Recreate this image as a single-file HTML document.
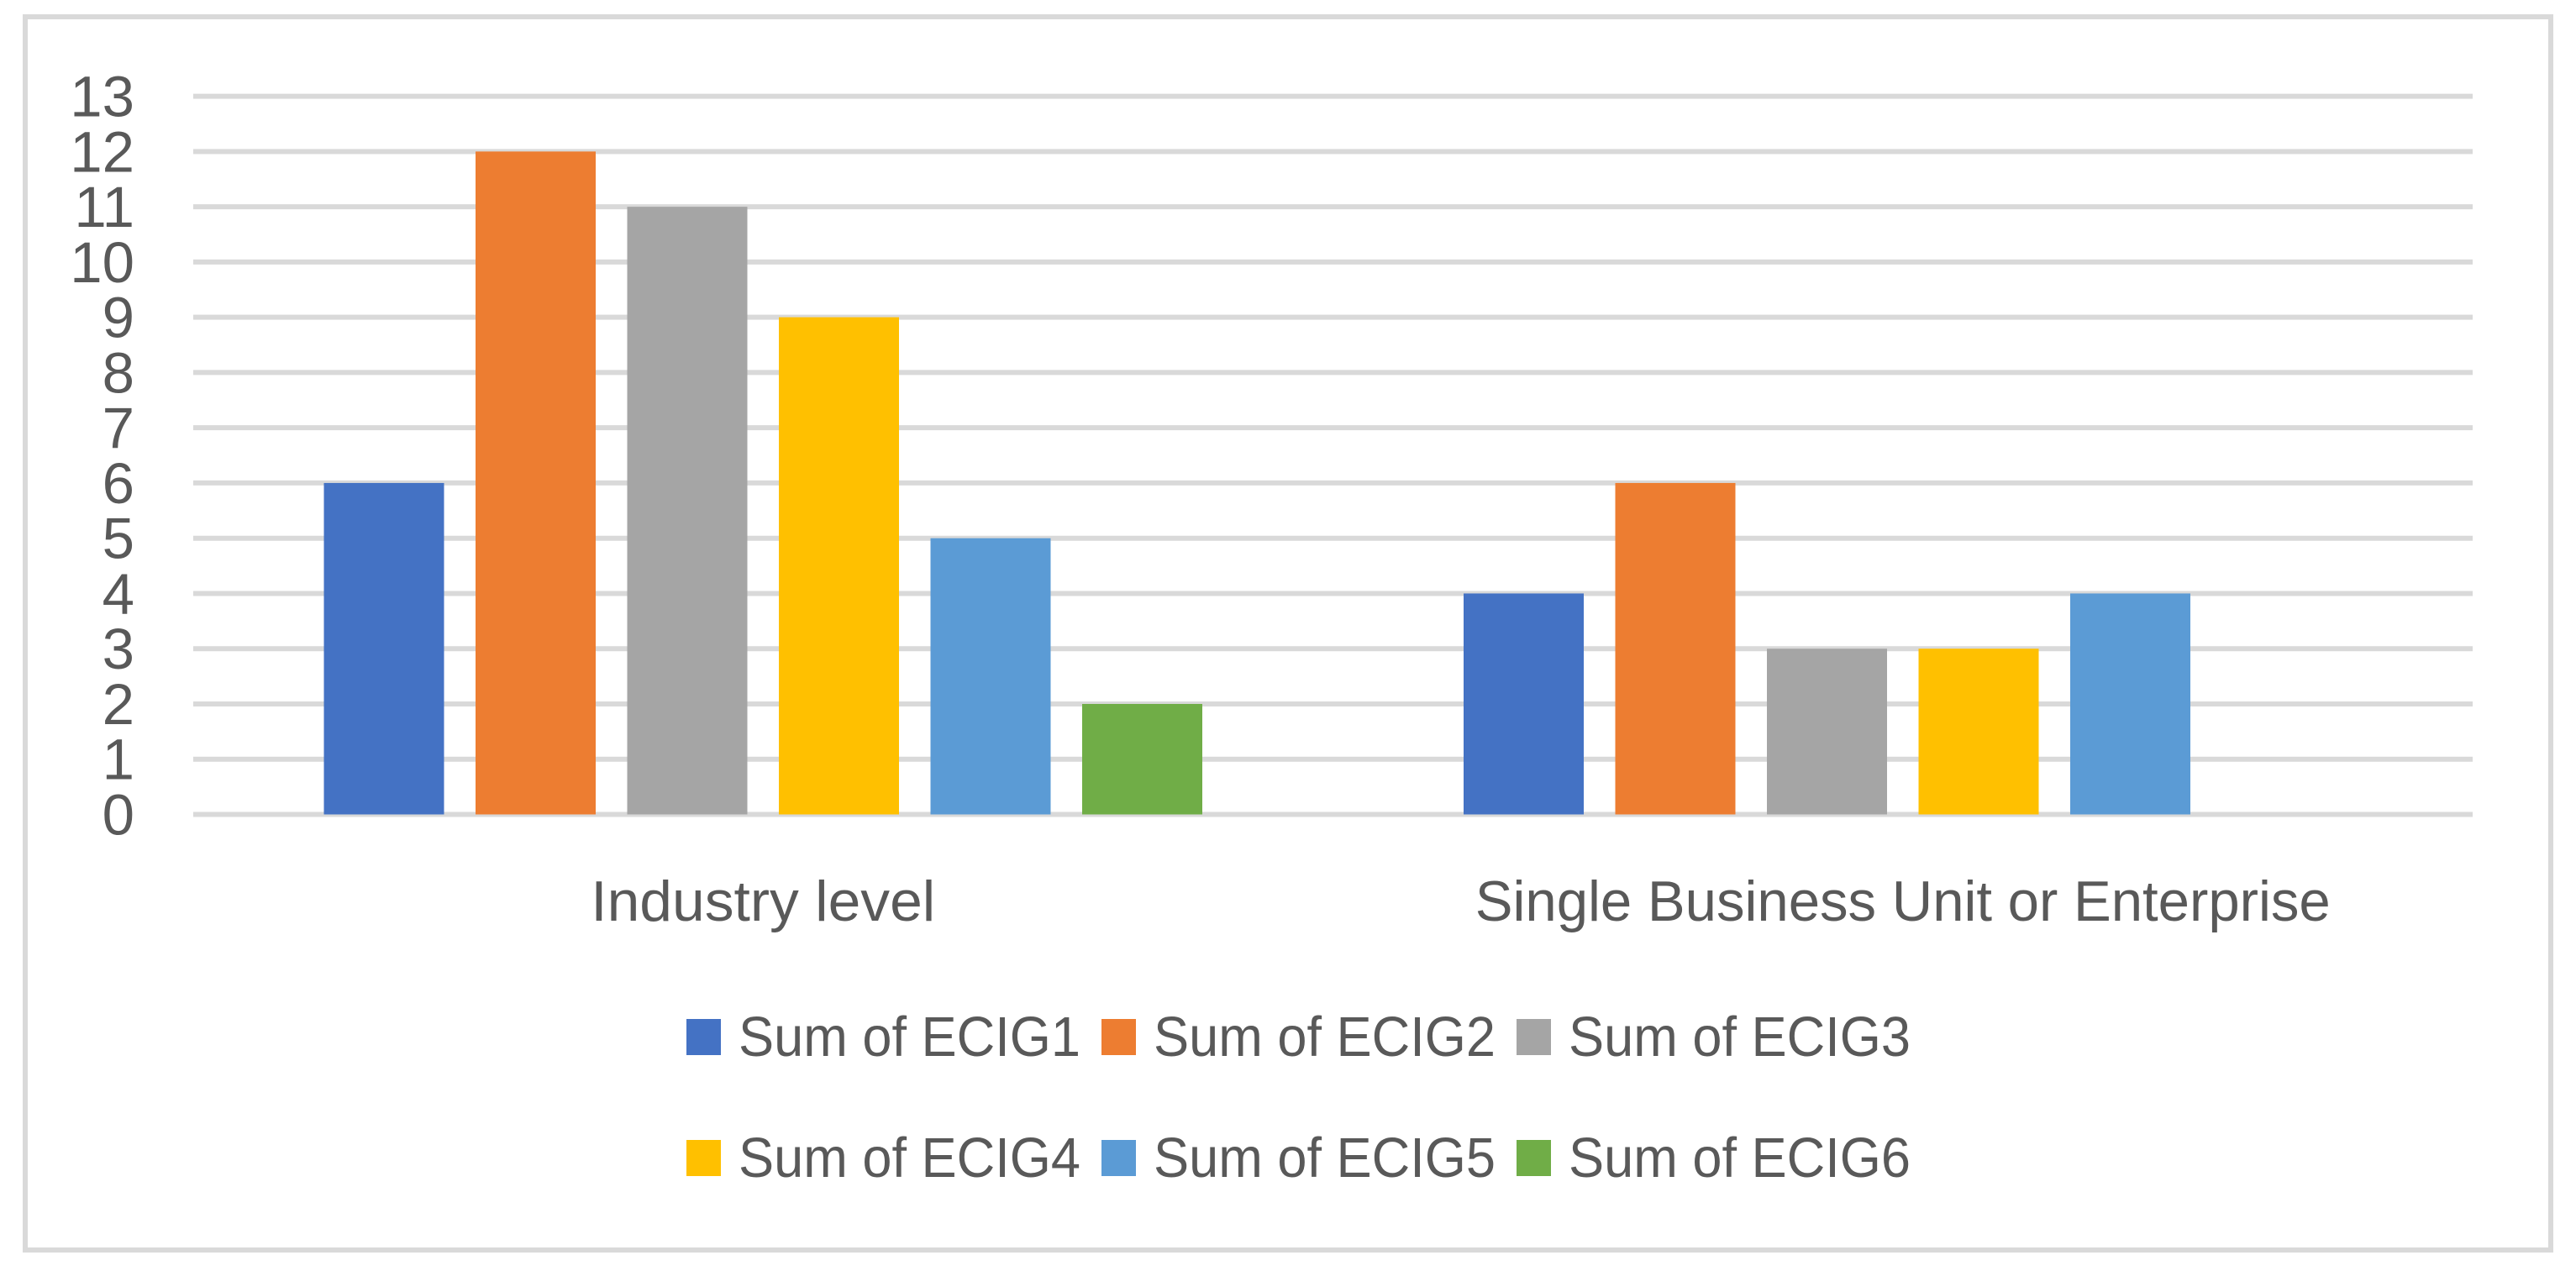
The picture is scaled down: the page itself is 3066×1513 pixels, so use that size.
<!DOCTYPE html>
<html><head><meta charset="utf-8"><style>
html,body{margin:0;padding:0;background:#fff;}
svg{display:block;font-family:"Liberation Sans",sans-serif;}
</style></head><body>
<svg id="chart" width="3066" height="1513" viewBox="0 0 3066 1513">
<rect x="30" y="20" width="3006" height="1468" fill="#fff" stroke="#d9d9d9" stroke-width="6"/>
<g id="grid"></g>
<g id="yticks"></g>
<g id="bars"></g>
<g id="xcats"></g>
<g id="legend"></g>
</svg>
<script>
const categories = ["Industry level", "Single Business Unit or Enterprise"];
const seriesNames = ["Sum of ECIG1","Sum of ECIG2","Sum of ECIG3","Sum of ECIG4","Sum of ECIG5","Sum of ECIG6"];
const ecig1 = [6, 4];
const ecig2 = [12, 6];
const ecig3 = [11, 3];
const ecig4 = [9, 3];
const ecig5 = [5, 4];
const ecig6 = [2, 0];
const yTicks = [0,1,2,3,4,5,6,7,8,9,10,11,12,13];
const colors = ["#4472c4","#ed7d31","#a5a5a5","#ffc000","#5b9bd5","#70ad47"];
const series = [ecig1, ecig2, ecig3, ecig4, ecig5, ecig6];

const NS = "http://www.w3.org/2000/svg";
const plotL = 230, plotR = 2943, y0 = 969.5, y13 = 114.6;
const yMax = 13;
function yScale(v){ return y0 - (y0 - y13) * v / yMax; }
const catW = (plotR - plotL) / categories.length;
function xCenter(i){ return plotL + catW * (i + 0.5); }
const barW = 143, step = 180.5;
function mk(tag, attrs, parent){ const e = document.createElementNS(NS, tag); for (const k in attrs) e.setAttribute(k, attrs[k]); parent.appendChild(e); return e; }

const grid = document.getElementById('grid');
const yt = document.getElementById('yticks');
yTicks.forEach(t => {
  const y = yScale(t);
  const l = mk('line', {x1: plotL, x2: plotR, y1: y, y2: y, stroke: '#d9d9d9', 'stroke-width': 6}, grid);
  
  
  const tx = mk('text', {x: 160, y: y + 24, 'text-anchor': 'end', 'font-size': 69, fill: '#595959'}, yt);
  tx.textContent = t;
  
  
});

const bars = document.getElementById('bars');
const n = series.length;
categories.forEach((c, ci) => {
  const start = xCenter(ci) - ((n - 1) * step + barW) / 2;
  series.forEach((s, si) => {
    const v = s[ci];
    if (!v) return;
    const r = mk('rect', {x: start + si * step, y: yScale(v), width: barW, height: yScale(0) - yScale(v), fill: colors[si]}, bars);
    
    
  });
});

const xc = document.getElementById('xcats');
const catLen = [410, 1018];
categories.forEach((c, ci) => {
  const t = mk('text', {x: xCenter(ci), y: 1096, 'text-anchor': 'middle', 'font-size': 68, fill: '#595959', textLength: catLen[ci], lengthAdjust: 'spacingAndGlyphs'}, xc);
  t.textContent = c;
  
  
});

const lg = document.getElementById('legend');
seriesNames.forEach((name, i) => {
  const col = i % 3, row = Math.floor(i / 3);
  const x = 817 + col * 494, y = 1213 + row * 144;
  const r = mk('rect', {x: x, y: y, width: 41, height: 43, fill: colors[i]}, lg);
  
  
  const t = mk('text', {x: x + 62, y: y + 44, 'font-size': 67, fill: '#595959', textLength: 407, lengthAdjust: 'spacingAndGlyphs'}, lg);
  t.textContent = name;
  
  
});
</script>
</body></html>
